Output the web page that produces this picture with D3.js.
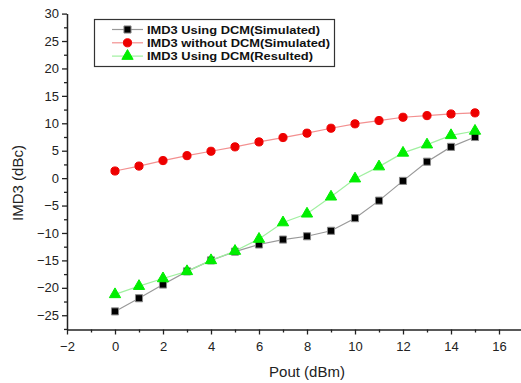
<!DOCTYPE html>
<html>
<head>
<meta charset="utf-8">
<script src="https://cdn.jsdelivr.net/npm/d3@7"></script>
<style>
  body { margin: 0; background: #fff; }
  svg text { font-family: Arial, "Liberation Sans", sans-serif; }
</style>
</head>
<body>
<div id="chart"></div>
<script>
// data
var pout = [0, 1, 2, 3, 4, 5, 6, 7, 8, 9, 10, 11, 12, 13, 14, 15];
var usingSim = [-24.3, -21.9, -19.4, -17.0, -15.0, -13.4, -12.1, -11.2, -10.6, -9.6, -7.3, -4.1, -0.5, 3.0, 5.7, 7.5];
var withoutSim = [1.3, 2.2, 3.2, 4.1, 4.9, 5.7, 6.6, 7.4, 8.2, 9.1, 9.9, 10.5, 11.1, 11.4, 11.7, 11.9];
var usingRes = [-21.2, -19.7, -18.3, -17.0, -15.0, -13.3, -11.1, -8.1, -6.5, -3.4, -0.1, 2.1, 4.6, 6.1, 7.8, 8.6];
var xTicks = [-2, 0, 2, 4, 6, 8, 10, 12, 14, 16];
var yTicks = [-25, -20, -15, -10, -5, 0, 5, 10, 15, 20, 25, 30];
var labels = ["IMD3 Using DCM(Simulated)", "IMD3 without DCM(Simulated)", "IMD3 Using DCM(Resulted)"];
var labelWidths = [173, 183, 166];

var W = 521, H = 383;
var svg = d3.select("#chart").append("svg")
    .attr("width", W).attr("height", H);

var x = d3.scaleLinear().domain([-2, 17]).range([67, 523]);
var y = d3.scaleLinear().domain([-27.6, 30]).range([329.5, 13.6]);

// axes
var xAxis = svg.append("g").attr("transform", "translate(0," + y(-27.6) + ")")
    .call(d3.axisBottom(x).tickValues(xTicks).tickSize(5).tickSizeOuter(0).tickFormat(d3.format("d")));
svg.append("g").attr("transform", "translate(0," + y(-27.6) + ")")
    .call(d3.axisBottom(x).tickValues(d3.range(-1, 17, 2)).tickSize(3).tickFormat(""))
    .select(".domain").remove();
var yAxis = svg.append("g").attr("transform", "translate(" + x(-2) + ",0)")
    .call(d3.axisLeft(y).tickValues(yTicks).tickSize(5).tickSizeOuter(0).tickFormat(d3.format("d")));
svg.append("g").attr("transform", "translate(" + x(-2) + ",0)")
    .call(d3.axisLeft(y).tickValues(d3.range(-27.5, 30, 5)).tickSize(3).tickFormat(""))
    .select(".domain").remove();

svg.selectAll(".domain").attr("stroke", "#222").attr("stroke-width", 1.5);
svg.selectAll(".tick line").attr("stroke", "#222").attr("stroke-width", 1.3);
svg.selectAll(".tick text").attr("fill", "#222").style("font-size", "13px");
xAxis.selectAll(".tick text").attr("dy", "1.05em");

svg.append("text").attr("x", x(8)).attr("y", 377)
    .attr("text-anchor", "middle").style("font-size", "15px").attr("fill", "#222")
    .text("Pout (dBm)");
svg.append("text").attr("transform", "translate(23,183) rotate(-90)")
    .attr("text-anchor", "middle").style("font-size", "15px").attr("fill", "#222")
    .text("IMD3 (dBc)");

var series = [
  { vals: usingSim, line: "#999", fill: "#000", stroke: "#888", shape: d3.symbolSquare, size: 50 },
  { vals: withoutSim, line: "#f39090", fill: "#e00", stroke: "#e00", shape: d3.symbolCircle, size: 52 },
  { vals: usingRes, line: "#a0f0a0", fill: "#0e0", stroke: "#0e0", shape: d3.symbolTriangle, size: 55 }
];

var line = d3.line().x(function(d) { return x(d[0]); }).y(function(d) { return y(d[1]); });

series.forEach(function(s) {
  var pts = pout.map(function(p, i) { return [p, s.vals[i]]; });
  svg.append("path").datum(pts).attr("d", line)
      .attr("fill", "none").attr("stroke", s.line).attr("stroke-width", 1.2);
  svg.selectAll(null).data(pts).enter().append("path")
      .attr("d", d3.symbol().type(s.shape).size(s.size))
      .attr("transform", function(d) { return "translate(" + x(d[0]) + "," + y(d[1]) + ")"; })
      .attr("fill", s.fill).attr("stroke", s.stroke).attr("stroke-width", 1);
});

// legend
var lg = svg.append("g");
lg.append("rect").attr("x", 94.5).attr("y", 19.5).attr("width", 240).attr("height", 47)
    .attr("fill", "#fff").attr("stroke", "#333").attr("stroke-width", 1.2);
labels.forEach(function(t, i) {
  var s = series[i], ly = 29.5 + i * 13.3;
  lg.append("line").attr("x1", 112).attr("x2", 143).attr("y1", ly).attr("y2", ly)
      .attr("stroke", s.line).attr("stroke-width", 1.2);
  lg.append("path").attr("d", d3.symbol().type(s.shape).size(s.size))
      .attr("transform", "translate(127.5," + ly + ")")
      .attr("fill", s.fill).attr("stroke", s.stroke);
  lg.append("text").attr("x", 147).attr("y", ly + 4)
      .attr("textLength", labelWidths[i]).attr("lengthAdjust", "spacingAndGlyphs")
      .style("font-size", "11px").style("font-weight", "bold").attr("fill", "#111")
      .text(t);
});
</script>
</body>
</html>
